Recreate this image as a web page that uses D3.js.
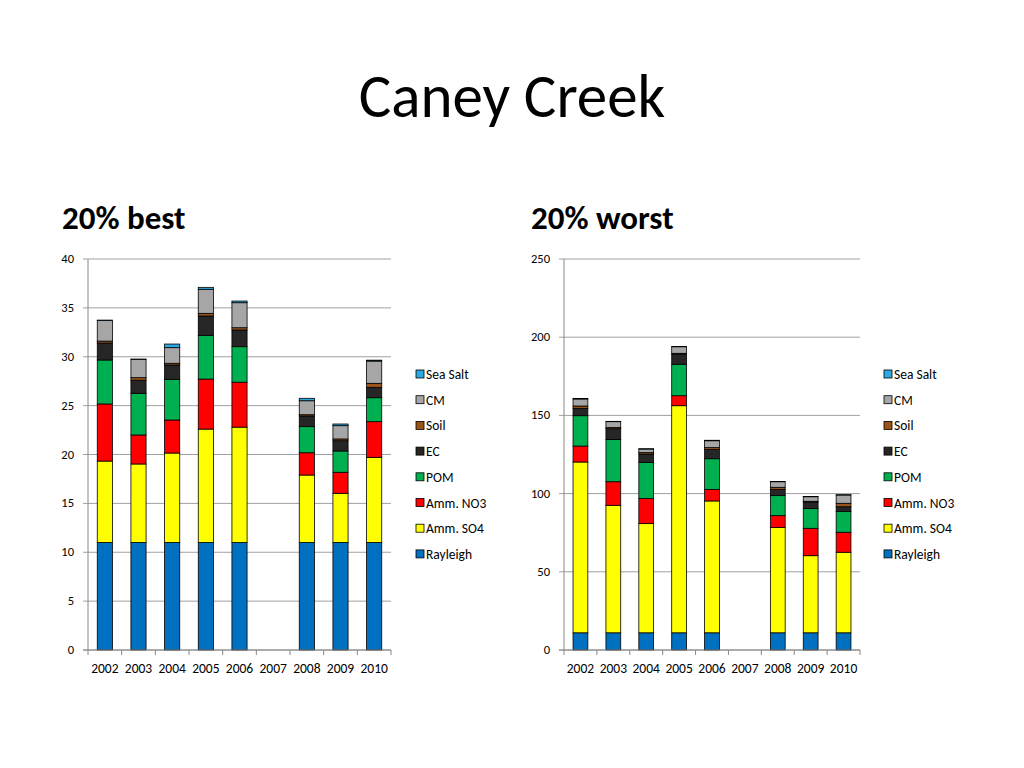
<!DOCTYPE html>
<html>
<head>
<meta charset="utf-8">
<script src="https://cdn.jsdelivr.net/npm/d3@7"></script>
<style>
  body { margin: 0; background: #fff; }
  text { font-family: Carlito, Lato, "Open Sans", sans-serif; }
</style>
</head>
<body>
<div id="chart"></div>
<script>
// categories and legend
var years = ["2002", "2003", "2004", "2005", "2006", "2007", "2008", "2009", "2010"];
var species = ["Rayleigh", "Amm. SO4", "Amm. NO3", "POM", "EC", "Soil", "CM", "Sea Salt"];
var colors = ["#0070c0", "#ffff00", "#ff0000", "#00b050", "#262626", "#9a5418", "#a6a6a6", "#2ea8e0"];

// 20% best days (Mm-1), one array per species, 2007 missing
var bestRayleigh = [11, 11, 11, 11, 11, null, 11, 11, 11];
var bestSO4      = [8.33, 8.03, 9.15, 11.6, 11.8, null, 6.9, 5.03, 8.71];
var bestNO3      = [5.84, 2.97, 3.38, 5.12, 4.6, null, 2.28, 2.15, 3.65];
var bestPOM      = [4.5, 4.26, 4.16, 4.47, 3.63, null, 2.67, 2.18, 2.45];
var bestEC       = [1.73, 1.34, 1.47, 1.98, 1.71, null, 1.09, 1.05, 1.06];
var bestSoil     = [0.2, 0.26, 0.17, 0.27, 0.23, null, 0.13, 0.18, 0.41];
var bestCM       = [2.1, 1.88, 1.6, 2.46, 2.56, null, 1.43, 1.36, 2.28];
var bestSeaSalt  = [0.05, 0.02, 0.37, 0.2, 0.17, null, 0.25, 0.17, 0.09];
var bestTicks = [0, 5, 10, 15, 20, 25, 30, 35, 40];

// 20% worst days
var worstRayleigh = [11, 11, 11, 11, 11, null, 11, 11, 11];
var worstSO4      = [109.2, 81.5, 69.8, 145.2, 84.3, null, 67.4, 49.3, 51.5];
var worstNO3      = [10.2, 15.1, 16, 6.4, 7.4, null, 7.5, 17.5, 12.8];
var worstPOM      = [19.4, 27, 23.2, 20.1, 19.6, null, 12.8, 12.6, 13.4];
var worstEC       = [4.7, 6.9, 5.3, 6.6, 6, null, 4, 4.2, 2.9];
var worstSoil     = [1.5, 0.7, 0.9, 0.4, 1.1, null, 1.3, 0.5, 2.2];
var worstCM       = [4.5, 3.8, 2.3, 4.2, 4.4, null, 3.6, 2.9, 5.3];
var worstSeaSalt  = [0.3, 0.2, 0.2, 0.2, 0.3, null, 0.2, 0.2, 0.2];
var worstTicks = [0, 50, 100, 150, 200, 250];

var svg = d3.select("#chart")
  .append("svg")
  .attr("width", 1024)
  .attr("height", 768);

svg.append("text")
  .attr("x", 512)
  .attr("y", 117)
  .attr("text-anchor", "middle")
  .style("font-size", "61px")
  .text("Caney Creek");

// builds the table d3.stack wants from the species arrays
function buildRows(arrays) {
  return years.map(function (y, i) {
    var row = { year: y, missing: arrays[0][i] == null };
    species.forEach(function (s, k) { row[s] = arrays[k][i] || 0; });
    return row;
  });
}

function drawPanel(opt) {
  var g = svg.append("g");

  g.append("text")
    .attr("x", opt.titleX)
    .attr("y", 229)
    .style("font-size", "33px")
    .style("font-weight", "bold")
    .text(opt.title);

  var x = d3.scaleBand()
    .domain(years)
    .range([opt.left, opt.right])
    .paddingInner(0.55)
    .paddingOuter(0.275);

  var y = d3.scaleLinear()
    .domain([0, opt.max])
    .range([650, 259]);

  // gridlines
  g.selectAll(".grid")
    .data(opt.ticks)
    .enter()
    .append("line")
    .attr("x1", opt.left - 5)
    .attr("x2", opt.right)
    .attr("y1", d => y(d))
    .attr("y2", d => y(d))
    .attr("stroke", "#a0a0a0")
    .attr("stroke-width", 1);

  g.selectAll(".ylab")
    .data(opt.ticks)
    .enter()
    .append("text")
    .attr("x", opt.left - 14)
    .attr("y", d => y(d) + 4)
    .attr("text-anchor", "end")
    .style("font-size", "12.5px")
    .text(d => d);

  var rows = buildRows(opt.arrays);
  var stack = d3.stack().keys(species)(rows);

  g.selectAll(".layer")
    .data(stack)
    .enter()
    .append("g")
    .attr("fill", (d, i) => colors[i])
    .selectAll("rect")
    .data(d => d.filter(p => !p.data.missing))
    .enter()
    .append("rect")
    .attr("x", d => x(d.data.year))
    .attr("width", x.bandwidth())
    .attr("y", d => y(d[1]))
    .attr("height", d => y(d[0]) - y(d[1]))
    .attr("stroke", "#000")
    .attr("stroke-width", 0.8);

  // axes
  g.append("line")
    .attr("x1", opt.left).attr("x2", opt.left)
    .attr("y1", 259).attr("y2", 650)
    .attr("stroke", "#888");
  g.append("line")
    .attr("x1", opt.left - 5).attr("x2", opt.right)
    .attr("y1", 650).attr("y2", 650)
    .attr("stroke", "#888");

  var step = x.step();
  g.selectAll(".xtick")
    .data(d3.range(years.length + 1))
    .enter()
    .append("line")
    .attr("x1", i => opt.left + i * step)
    .attr("x2", i => opt.left + i * step)
    .attr("y1", 650)
    .attr("y2", 655)
    .attr("stroke", "#888");

  g.selectAll(".xlab")
    .data(years)
    .enter()
    .append("text")
    .attr("x", d => x(d) + x.bandwidth() / 2)
    .attr("y", 673)
    .attr("text-anchor", "middle")
    .style("font-size", "13.5px")
    .text(d => d);

  // legend, top entry is the top of the stack
  var legend = g.selectAll(".legend")
    .data(species.slice().reverse())
    .enter()
    .append("g")
    .attr("transform", (d, i) => `translate(${opt.legendX}, ${374 + i * 25.7})`);

  legend.append("rect")
    .attr("x", 0)
    .attr("y", -4)
    .attr("width", 8)
    .attr("height", 8)
    .attr("fill", d => colors[species.indexOf(d)])
    .attr("stroke", "#000")
    .attr("stroke-width", 0.8);

  legend.append("text")
    .attr("x", 10)
    .attr("y", 5)
    .style("font-size", "13.5px")
    .text(d => d);
}

drawPanel({
  title: "20% best",
  titleX: 62,
  left: 88,
  right: 391,
  max: 40,
  ticks: bestTicks,
  legendX: 416,
  arrays: [bestRayleigh, bestSO4, bestNO3, bestPOM, bestEC, bestSoil, bestCM, bestSeaSalt]
});

drawPanel({
  title: "20% worst",
  titleX: 531,
  left: 564,
  right: 860,
  max: 250,
  ticks: worstTicks,
  legendX: 884,
  arrays: [worstRayleigh, worstSO4, worstNO3, worstPOM, worstEC, worstSoil, worstCM, worstSeaSalt]
});
</script>
</body>
</html>
